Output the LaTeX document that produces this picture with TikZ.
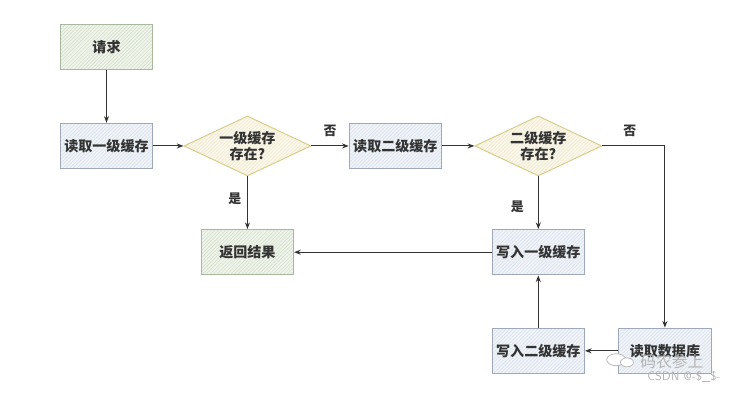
\documentclass[tikz,border=0pt]{standalone}
\usepackage{fontspec}
\newfontfamily\cjk{Noto Sans CJK SC}
\usetikzlibrary{arrows.meta, positioning, shapes.geometric, patterns}

\definecolor{greenfill}{HTML}{EEF3E9}
\definecolor{greenline}{HTML}{A8B8A0}
\definecolor{greenhatch}{HTML}{D5DFCC}
\definecolor{bluefill}{HTML}{EFF3F8}
\definecolor{blueline}{HTML}{9EA9B8}
\definecolor{bluehatch}{HTML}{DAE2EC}
\definecolor{yellowfill}{HTML}{FAF7EA}
\definecolor{yellowline}{HTML}{D8CB85}
\definecolor{yellowhatch}{HTML}{EFE9CF}
\definecolor{inkline}{HTML}{333333}
\definecolor{marktext}{HTML}{B4B4B4}

\begin{document}
\begin{tikzpicture}[
    node distance=1.59cm,
    >={Stealth[length=2mm]},
    boxnode/.style={rectangle, align=center, font=\cjk\bfseries\fontsize{12}{14}\selectfont, text=inkline, line width=0.8pt, minimum width=2.77cm, minimum height=1.36cm, inner sep=0pt},
    greenbox/.style={boxnode, draw=greenline, preaction={fill=greenfill}, pattern=north east lines, pattern color=greenhatch},
    bluebox/.style={boxnode, draw=blueline, preaction={fill=bluefill}, pattern=north east lines, pattern color=bluehatch},
    choice/.style={diamond, align=center, font=\cjk\bfseries\fontsize{12}{14}\selectfont, text=inkline, line width=0.8pt, draw=yellowline, preaction={fill=yellowfill}, pattern=north east lines, pattern color=yellowhatch, minimum width=3.81cm, minimum height=1.8cm, inner sep=0pt, aspect=2.08},
    tag/.style={font=\cjk\bfseries\fontsize{11}{13}\selectfont, text=inkline, inner sep=0pt},
    link/.style={->, draw=inkline, line width=0.9pt},
    marktag/.style={font=\cjk\fontsize{13.5}{15}\selectfont, text=marktext, inner sep=0pt}
]
    \useasboundingbox (-3.195,1.41) rectangle (18.825,-10.68);

    \node (request) [greenbox] {请求};
    \node (readone) [bluebox, below=1.58cm of request] {读取一级缓存};
    \node (askone) [choice, right=0.91cm of readone] {一级缓存\\存在?};
    \node (readtwo) [bluebox, right=1.12cm of askone] {读取二级缓存};
    \node (asktwo) [choice, right=0.97cm of readtwo] {二级缓存\\存在?};
    \node (result) [greenbox, below=1.58cm of askone] {返回结果};
    \node (writeone) [bluebox, below=1.58cm of asktwo] {写入一级缓存};
    \node (writetwo) [bluebox, below=1.57cm of writeone] {写入二级缓存};
    \node (readdb) [bluebox, right=1.0cm of writetwo] {读取数据库};

    \draw[link] (request) -- (readone);
    \draw[link] (readone) -- (askone);
    \draw[link] (askone) -- node[tag, above=0.27cm] (noone) {否} (readtwo);
    \draw[link] (readtwo) -- (asktwo);
    \draw[link] (askone) -- node[tag, left=0.17cm, pos=0.42] (yesone) {是} (result);
    \draw[link] (asktwo) -- node[tag, left=0.42cm, pos=0.58] (yestwo) {是} (writeone);
    \draw[link] (asktwo) -| node[tag, above=0.27cm, pos=0.22] (notwo) {否} (readdb);
    \draw[link] (writeone) -- (result);
    \draw[link] (writetwo) -- (writeone);
    \draw[link] (readdb) -- (writetwo);

    \node (markname) [marktag, below=0.1cm of readdb.center, xshift=0.21cm] {码农参上};
    \node (markcsdn) [marktag, font=\sffamily\fontsize{10.5}{12}\selectfont, below=0.62cm of readdb.center, xshift=0.57cm] {CSDN @-\$\_\$-};
    \node (markbig) [ellipse, draw=marktext, fill=white, line width=0.6pt, minimum width=0.57cm, minimum height=0.36cm, inner sep=0pt, left=0.42cm of markname.west, yshift=0.06cm] {};
    \node (marksmall) [ellipse, draw=marktext, fill=white, line width=0.6pt, minimum width=0.39cm, minimum height=0.27cm, inner sep=0pt, right=-0.18cm of markbig, yshift=-0.08cm] {};
\end{tikzpicture}
\end{document}
